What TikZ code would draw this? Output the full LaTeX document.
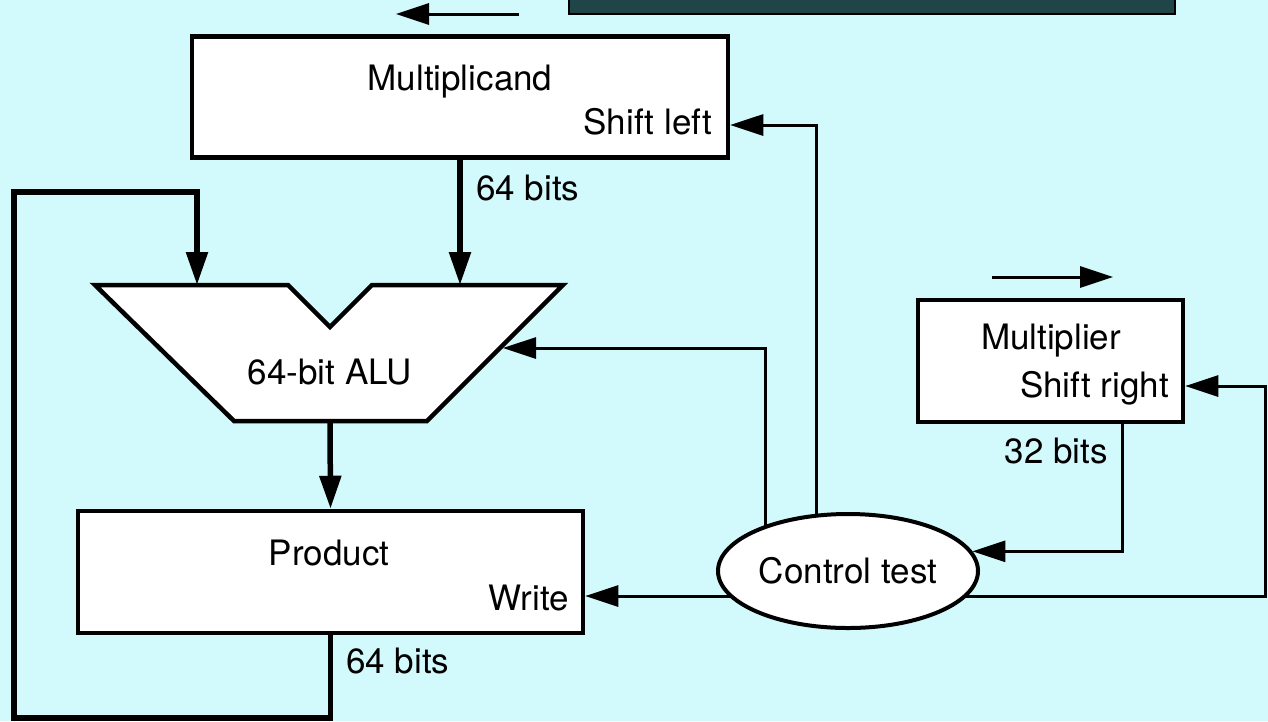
\documentclass[tikz,border=0pt]{standalone}
\usepackage{fontspec}
\setmainfont{TeX Gyre Heros}
\usetikzlibrary{arrows.meta,shapes.geometric}
\definecolor{bgc}{RGB}{210,250,252}
\definecolor{darkteal}{RGB}{31,69,72}
\pgfdeclarelayer{bg}
\pgfdeclarelayer{wires}
\pgfsetlayers{bg,wires,main}
\tikzset{
  txt/.style={inner sep=0pt, font=\fontsize{35}{40}\selectfont},
  regbox/.style={draw=black, fill=white, line width=4.5pt, inner sep=0pt},
  ctlell/.style={ellipse, draw=black, fill=white, line width=4pt, inner sep=0pt, font=\fontsize{35}{40}\selectfont},
  thickarrow/.style={line width=5.5pt, line join=miter, -{Triangle[length=33pt,width=21pt]}},
  thinarrow/.style={line width=3pt, line join=miter, -{Triangle[length=33pt,width=21pt]}},
  alushape/.style={draw=black, fill=white, line width=4.5pt, line join=miter},
}
\begin{document}
\begin{tikzpicture}[x=1pt,y=-1pt]
\begin{pgfonlayer}{bg}
\fill[bgc] (0,0) rectangle (1268,721);
\end{pgfonlayer}
\useasboundingbox (0,0) rectangle (1268,721);

% top decorations
\fill[darkteal, draw=black, line width=2pt] (569,-6) rectangle (1175,14);
\coordinate (la1) at (519,14);
\coordinate (la2) at (396,14);
\draw[thinarrow] (la1) -- (la2);
\coordinate (ra1) at (992,277);
\coordinate (ra2) at (1113,277);
\draw[thinarrow] (ra1) -- (ra2);

% registers
\node[regbox, minimum width=536pt, minimum height=121pt] (mcand) at (460,97) {};
\node[txt, anchor=base] (mcandt) at (460,90) {Multiplicand};
\node[txt, anchor=base east] (mcands) at (712,134) {Shift left};

\node[regbox, minimum width=265pt, minimum height=122pt] (mult) at (1050.5,361) {};
\node[txt, anchor=base] (multt) at (1051,349) {Multiplier};
\node[txt, anchor=base east] (mults) at (1169,397) {Shift right};

\node[regbox, minimum width=505pt, minimum height=122pt] (prod) at (330.5,572) {};
\node[txt, anchor=base] (prodt) at (329,565) {Product};
\node[txt, anchor=base east] (prodw) at (569,610) {Write};

% ALU
\draw[alushape] (95,285) -- (288,285) -- (330,327) -- (372,285) -- (563,285) -- (427,421) -- (234,421) -- cycle;
\node[txt, anchor=base] (alut) at (330,384) {64-bit ALU};
\coordinate (aluin1) at (197,285);
\coordinate (aluin2) at (460,285);
\coordinate (aluctl) at (503,348);
\coordinate (aluout) at (330,421);

% control
\node[ctlell, minimum width=260pt, minimum height=114pt] (ctrl) at (848,571) {Control test};

% labels
\node[txt, anchor=base west] (l64a) at (476,200) {64 bits};
\node[txt, anchor=base east] (l32) at (1108,463) {32 bits};
\node[txt, anchor=base west] (l64b) at (346,673) {64 bits};

% wires
\coordinate (loopbl) at (14,718);
\coordinate (looptl) at (14,192);
\coordinate (rc) at (1265,596);
\begin{pgfonlayer}{wires}
\draw[thickarrow] (mcand.south) -- (aluin2);
\draw[thickarrow] (aluout) -- (prod.north);
\draw[thickarrow] (prod.south) |- (loopbl) -- (looptl) -| (aluin1);
\draw[thinarrow] ([xshift=-32pt]ctrl.center) |- ([yshift=-28pt]mcand.east);
\draw[thinarrow] ([xshift=-83pt]ctrl.center) |- (aluctl);
\draw[thinarrow] ([yshift=-25pt]ctrl.center) -- ([yshift=-24pt]prod.east);
\draw[thinarrow] ([yshift=-25pt]ctrl.center) -- (rc) |- ([yshift=-25pt]mult.east);
\draw[thinarrow] ([xshift=71.5pt]mult.south) |- (ctrl.9);
\end{pgfonlayer}
\end{tikzpicture}
\end{document}
